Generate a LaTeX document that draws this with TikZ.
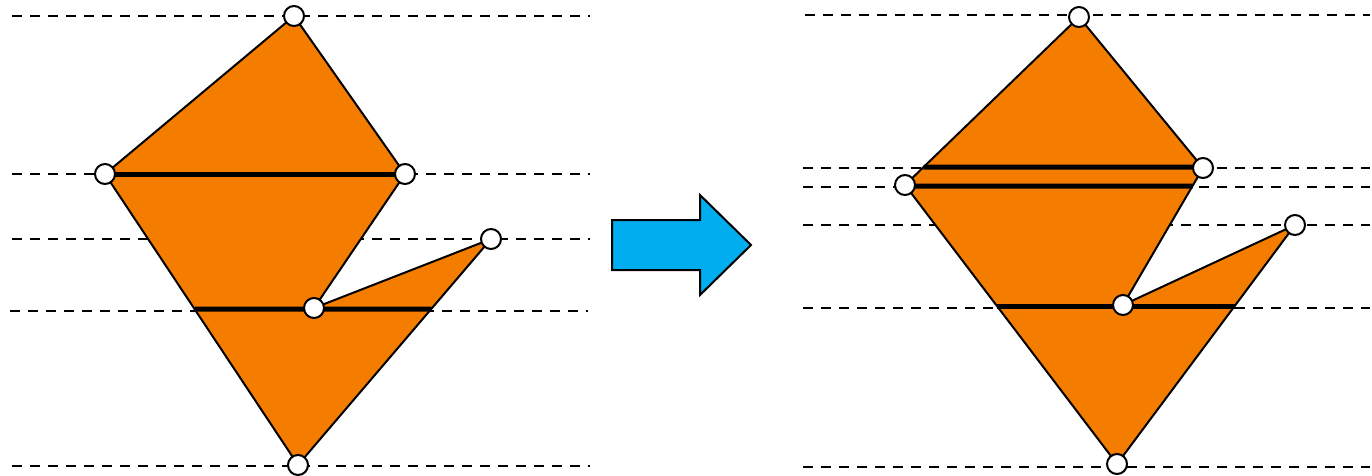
\documentclass[tikz,border=0pt]{standalone}
\begin{document}
\begin{tikzpicture}[x=1pt,y=-1pt,
  guide/.style={line width=2.4pt,dash pattern=on 10pt off 8pt},
  piece/.style={fill=figorange,draw=black,line width=2pt,line join=miter},
  cut/.style={line width=5pt},
  vtx/.style={circle,draw=black,fill=white,line width=2pt,minimum size=20pt,inner sep=0pt},
  bigarrow/.style={fill=arrowblue,draw=black,line width=2pt}]
\definecolor{figorange}{HTML}{F47D00}
\definecolor{arrowblue}{HTML}{00AEEF}
\useasboundingbox (0,0) rectangle (1372,475);

% ---------- left figure ----------
\coordinate (L1) at (294,16);
\coordinate (L2) at (405,174);
\coordinate (L3) at (314,308);
\coordinate (L4) at (491,239);
\coordinate (L5) at (298,465);
\coordinate (L6) at (105,174);

\coordinate (lg1a) at (12,16);  \coordinate (lg1b) at (590,16);
\coordinate (lg2a) at (12,174); \coordinate (lg2b) at (590,174);
\coordinate (lg3a) at (12,239); \coordinate (lg3b) at (590,239);
\coordinate (lg4a) at (10,311); \coordinate (lg4b) at (588,311);
\coordinate (lg5a) at (12,466); \coordinate (lg5b) at (590,466);
\foreach \i in {1,...,5} \draw[guide] (lg\i a) -- (lg\i b);

\draw[piece] (L1) -- (L2) -- (L3) -- (L4) -- (L5) -- (L6) -- cycle;

\coordinate (lc1) at (intersection of L6--L5 and 0,309--600,309);
\coordinate (lc2) at (intersection of L4--L5 and 0,309--600,309);
\draw[cut] (L6) -- (L2);
\draw[cut] (lc1) -- (lc2);

\foreach \p in {1,...,6} \node[vtx] (l\p) at (L\p) {};

% ---------- arrow ----------
\draw[bigarrow] (612,220) -- (700,220) -- (700,195) -- (751,245)
  -- (700,295) -- (700,270) -- (612,270) -- cycle;

% ---------- right figure ----------
\coordinate (R1) at (1079,17);
\coordinate (R2) at (1203,168);
\coordinate (R3) at (1123,305);
\coordinate (R4) at (1295,225);
\coordinate (R5) at (1117,464);
\coordinate (R6) at (905,185);

\coordinate (rg1a) at (805,15);  \coordinate (rg1b) at (1370,15);
\coordinate (rg2a) at (803,168); \coordinate (rg2b) at (1370,168);
\coordinate (rg3a) at (803,187); \coordinate (rg3b) at (1370,187);
\coordinate (rg4a) at (803,225); \coordinate (rg4b) at (1370,225);
\coordinate (rg5a) at (803,308); \coordinate (rg5b) at (1370,308);
\coordinate (rg6a) at (803,467); \coordinate (rg6b) at (1370,467);
\foreach \i in {1,...,6} \draw[guide] (rg\i a) -- (rg\i b);

\draw[piece] (R1) -- (R2) -- (R3) -- (R4) -- (R5) -- (R6) -- cycle;

\coordinate (rc1) at (intersection of R6--R1 and 800,167--1370,167);
\coordinate (rc2) at (intersection of R2--R3 and 800,186--1370,186);
\coordinate (rc3) at (intersection of R6--R5 and 800,306--1370,306);
\coordinate (rc4) at (intersection of R4--R5 and 800,306--1370,306);
\draw[cut] (rc1) -- (1201,167);
\draw[cut] (905,186) -- (rc2);
\draw[cut] (rc3) -- (rc4);

\foreach \p in {1,...,6} \node[vtx] (r\p) at (R\p) {};
\end{tikzpicture}
\end{document}
